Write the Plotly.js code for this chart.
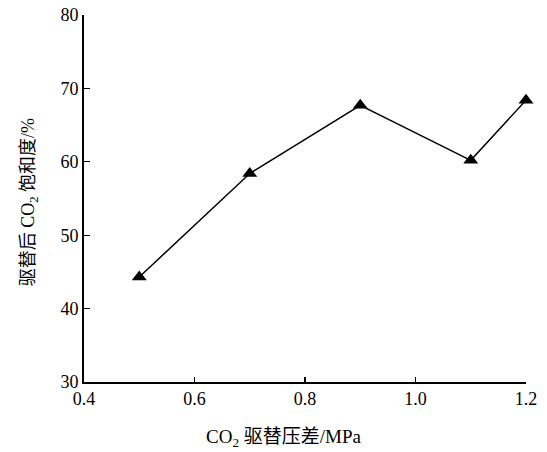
<!DOCTYPE html>
<html>
<head>
<meta charset="utf-8">
<script src="https://cdn.plot.ly/plotly-3.0.1.min.js"></script>
<style>html,body{margin:0;padding:0;background:#fff;}</style>
</head>
<body>
<div id="chart" style="width:547px;height:452px;"></div>
<script>
const pressureDiff = [0.5, 0.7, 0.9, 1.1, 1.2];
const saturation = [44.3, 58.4, 67.7, 60.2, 68.4];
const xTicks = [0.4, 0.6, 0.8, 1.0, 1.2];
const xTickLabels = ['0.4', '0.6', '0.8', '1.0', '1.2'];
const yTicks = [30, 40, 50, 60, 70, 80];
const xTitle = 'CO<sub>2</sub> 驱替压差/MPa';
const yTitle = '驱替后 CO<sub>2</sub> 饱和度/%';

const FONT = 'Liberation Serif, Times New Roman, Noto Sans CJK SC, serif';

const trace = {
  x: pressureDiff,
  y: saturation,
  mode: 'lines+markers',
  type: 'scatter',
  line: {color: '#000', width: 1.5},
  marker: {symbol: 'triangle-up', size: 13, color: '#000'},
  cliponaxis: false,
  hoverinfo: 'skip'
};

const layout = {
  width: 547, height: 452,
  margin: {l: 84, r: 21, t: 15, b: 70},
  paper_bgcolor: '#fff', plot_bgcolor: '#fff',
  showlegend: false,
  font: {family: FONT, color: '#000', size: 18},
  xaxis: {
    range: [0.4, 1.2], tickvals: xTicks, ticktext: xTickLabels,
    ticks: 'inside', ticklen: 5, tickwidth: 1.2, tickcolor: '#000',
    showline: true, linecolor: '#000', linewidth: 1.8,
    showgrid: false, zeroline: false,
    tickfont: {family: FONT, size: 18, color: '#000'}
  },
  yaxis: {
    range: [30, 80], tickvals: yTicks,
    ticks: 'inside', ticklen: 6, tickwidth: 1.2, tickcolor: '#000',
    showline: true, linecolor: '#000', linewidth: 1.8,
    showgrid: false, zeroline: false,
    tickfont: {family: FONT, size: 18, color: '#000'}
  },
  annotations: [
    {text: xTitle, xref: 'paper', yref: 'paper', x: 0.4525, y: -0.1526,
     xanchor: 'center', yanchor: 'middle', showarrow: false,
     font: {family: FONT, size: 19, color: '#000'}},
    {text: yTitle, xref: 'paper', yref: 'paper', x: -0.124, y: 0.49,
     xanchor: 'center', yanchor: 'middle', showarrow: false, textangle: -90,
     font: {family: FONT, size: 18, color: '#000'}}
  ]
};

Plotly.newPlot('chart', [trace], layout, {displayModeBar: false, staticPlot: true});
</script>
</body>
</html>
